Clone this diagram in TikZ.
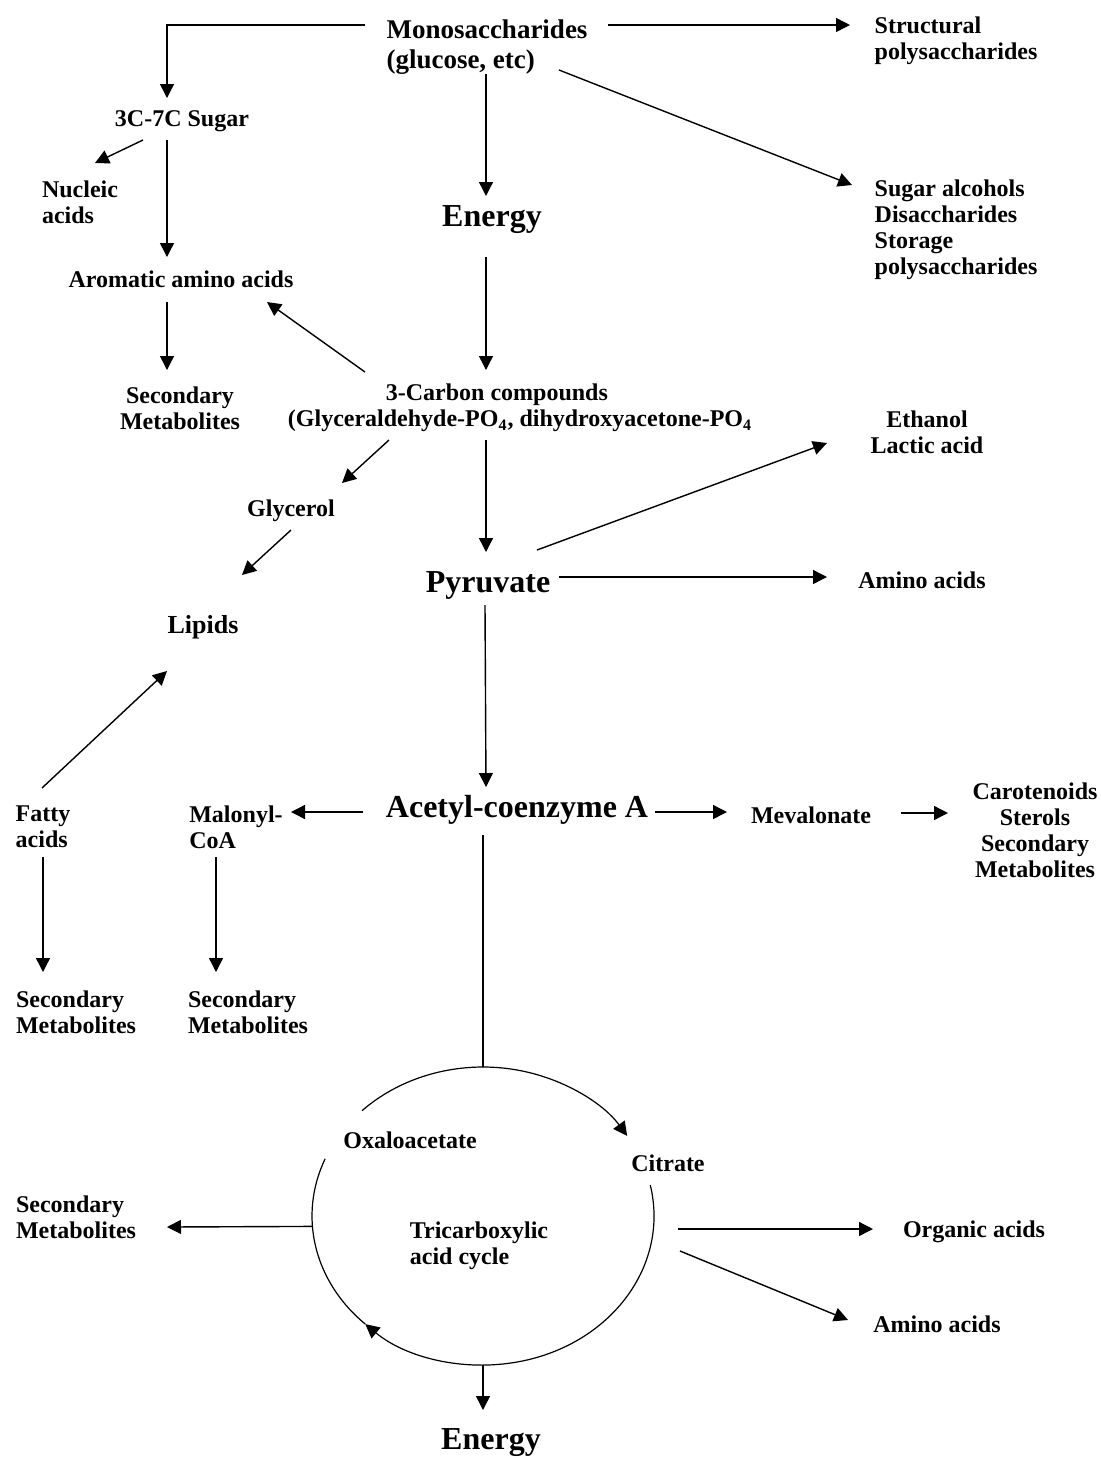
\documentclass[tikz,border=0pt]{standalone}
\usepackage{fontspec}
\setmainfont{Liberation Serif}
\usetikzlibrary{arrows.meta,calc}
\begin{document}
\begin{tikzpicture}[x=0.5pt,y=-0.5pt,
  txt/.style={font=\fontsize{12}{13}\selectfont\bfseries, inner sep=0pt, align=center},
  lt/.style={txt, align=left},
  monof/.style={font=\fontsize{13.5}{15}\selectfont\bfseries, inner sep=0pt, align=left},
  big/.style={font=\fontsize{16}{19}\selectfont\bfseries, inner sep=0pt},
  arr/.style={line width=0.7pt, -{Triangle[length=7pt,width=7pt]}},
  ln/.style={line width=0.6pt},
  cyl/.style={line width=0.6pt}]
\path[use as bounding box] (0,0) rectangle (1101,1458);

% nodes
\node[monof] (mono) at (487,47) {Monosaccharides\\(glucose, etc)};
\node[lt] (struct) at (956,41) {Structural\\polysaccharides};
\node[lt] (sugaralc) at (956,230) {Sugar alcohols\\Disaccharides\\Storage\\polysaccharides};
\node[big] (en1) at (492,220) {Energy};
\node[txt] (s37) at (182,121) {3C-7C Sugar};
\node[lt] (nucleic) at (80,202) {Nucleic\\acids};
\node[txt] (arom) at (181,279) {Aromatic amino acids};
\node[txt] (sec1) at (180,408) {Secondary\\Metabolites};
\node[lt] (three) at (520,408) {\hspace{49pt}3-Carbon compounds\\(Glyceraldehyde-PO\textsubscript{4}, dihydroxyacetone-PO\textsubscript{4}};
\node[txt] (glycerol) at (291,511) {Glycerol};
\node[txt, font=\fontsize{13}{14}\selectfont\bfseries] (lipids) at (203,627) {Lipids};
\node[big] (pyr) at (488,585) {Pyruvate};
\node[txt] (ethanol) at (927,432) {Ethanol\\Lactic acid};
\node[txt] (amino1) at (922,580) {Amino acids};
\node[big] (acetyl) at (517,810) {Acetyl-coenzyme A};
\node[lt] (malonyl) at (236,827) {Malonyl-\\CoA};
\node[lt] (fatty) at (43,827) {Fatty\\acids};
\node[lt] (sec2) at (76,1012) {Secondary\\Metabolites};
\node[lt] (sec3) at (248,1012) {Secondary\\Metabolites};
\node[txt] (meval) at (811,815) {Mevalonate};
\node[txt] (carot) at (1035,830) {Carotenoids\\Sterols\\Secondary\\Metabolites};
\node[txt] (oxalo) at (410,1140) {Oxaloacetate};
\node[txt] (citrate) at (668,1163) {Citrate};
\node[lt] (tca) at (479,1246) {Tricarboxylic\\acid cycle};
\node[lt] (sec4) at (76,1217) {Secondary\\Metabolites};
\node[txt] (organic) at (974,1232) {Organic acids};
\node[txt] (amino2) at (937,1324) {Amino acids};
\node[big] (en2) at (491,1443) {Energy};

% cycle
\coordinate (cyc) at (483,1216);
\coordinate (ctop) at ($(cyc)+(270:171 and 149)$);
\coordinate (cleft) at ($(cyc)+(176:171 and 149)$);
\coordinate (cbot) at ($(cyc)+(90:171 and 149)$);
\draw[cyl, -{Triangle[length=7pt,width=7pt]}] ($(cyc)+(225:171 and 149)$) arc[start angle=225, end angle=327.5, x radius=171, y radius=149];
\draw[cyl, -{Triangle[length=7pt,width=7pt]}] ($(cyc)+(348:171 and 149)$) arc[start angle=348, end angle=493.5, x radius=171, y radius=149];
\draw[cyl] ($(cyc)+(493.5:171 and 149)$) arc[start angle=493.5, end angle=562.6, x radius=171, y radius=149];

% connectors
\draw[arr] ([shift={(-122,-22)}]mono.center) -| ([shift={(-15,-23)}]s37.center);
\draw[arr] ([shift={(121,-22)}]mono.center) -- ([shift={(-106,-16)}]struct.center);
\draw[arr] ([shift={(72,23)}]mono.center) -- ([shift={(-104,-45)}]sugaralc.center);
\draw[arr] ([shift={(-1,27)}]mono.center) -- ([shift={(-6,-24)}]en1.center);
\draw[arr] ([shift={(-39,19)}]s37.center) -- ([shift={(15,-39)}]nucleic.center);
\draw[arr] ([shift={(-15,19)}]s37.center) -- ([shift={(-14,-22)}]arom.center);
\draw[arr] ([shift={(-14,23)}]arom.center) -- ([shift={(-13,-38)}]sec1.center);
\draw[arr] ([shift={(-155,-36)}]three.center) -- ([shift={(86,23)}]arom.center);
\draw[arr] ([shift={(-6,37)}]en1.center) -- ([shift={(-34,-38)}]three.center);
\draw[arr] ([shift={(-131,32)}]three.center) -- ([shift={(51,-28)}]glycerol.center);
\draw[arr] ([shift={(0,19)}]glycerol.center) -- ([shift={(39,-52)}]lipids.center);
\draw[arr] ([shift={(-34,32)}]three.center) -- ([shift={(-2,-33)}]pyr.center);
\draw[arr] ([shift={(49,-35)}]pyr.center) -- ([shift={(-100,11)}]ethanol.center);
\draw[arr] ([shift={(71,-8)}]pyr.center) -- ([shift={(-95,-3)}]amino1.center);
\draw[arr] ([shift={(-3,20)}]pyr.center) -- ([shift={(-31,-23)}]acetyl.center);
\draw[arr] ([shift={(-154,2)}]acetyl.center) -- ([shift={(55,-15)}]malonyl.center);
\draw[arr] ([shift={(-20,30)}]malonyl.center) -- ([shift={(-32,-40)}]sec3.center);
\draw[arr] ([shift={(0,30)}]fatty.center) -- ([shift={(-33,-40)}]sec2.center);
\draw[arr] ([shift={(-1,-39)}]fatty.center) -- ([shift={(-36,44)}]lipids.center);
\draw[arr] ([shift={(138,2)}]acetyl.center) -- ([shift={(-84,-3)}]meval.center);
\draw[arr] ([shift={(90,-2)}]meval.center) -- ([shift={(-87,-17)}]carot.center);
\draw[ln] ([shift={(-34,25)}]acetyl.center) -- (ctop);
\draw[arr] (cleft) -- ([shift={(91,10)}]sec4.center);
\draw[arr] ([shift={(199,-17)}]tca.center) -- ([shift={(-101,-3)}]organic.center);
\draw[arr] ([shift={(201,5)}]tca.center) -- ([shift={(-89,-4)}]amino2.center);
\draw[arr] (cbot) -- ([shift={(-8,-33)}]en2.center);
\end{tikzpicture}
\end{document}
